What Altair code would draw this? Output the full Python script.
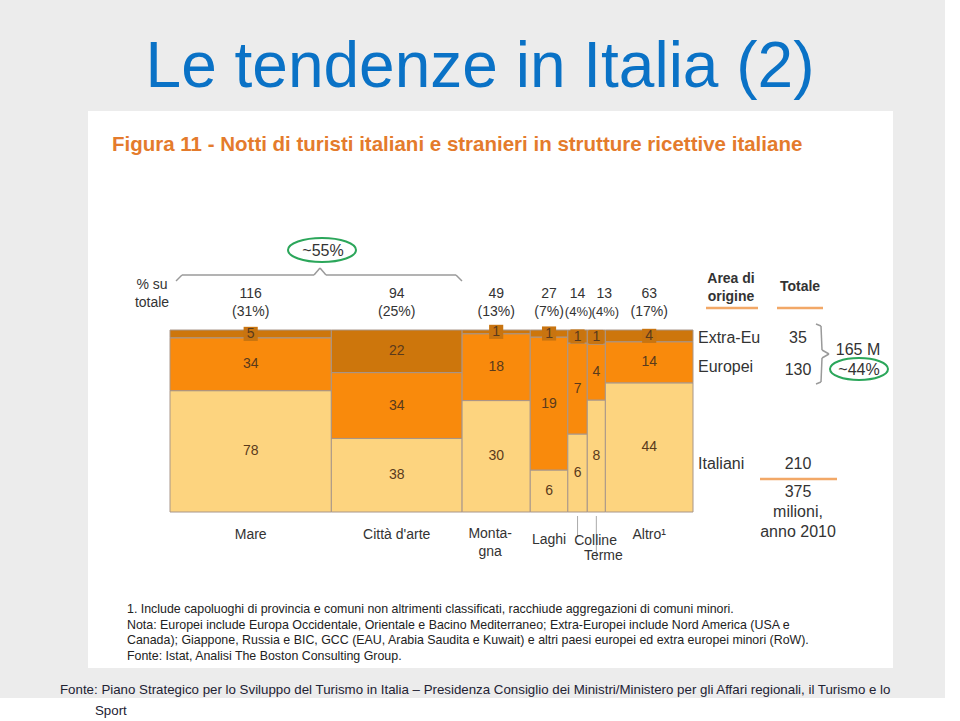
import altair as alt
import pandas as pd

# ---------------- data ----------------
categorie = ["Mare", "Città d'arte", "Montagna", "Laghi", "Colline", "Terme", "Altro"]
totali = [116, 94, 49, 27, 14, 13, 63]          # milioni di notti
quote = [31, 25, 13, 7, 4, 4, 17]                # % su totale
italiani = [78, 38, 30, 6, 6, 8, 44]
europei = [34, 34, 18, 19, 7, 4, 14]
extra_eu = [5, 22, 1, 1, 1, 1, 4]
aree = ["Italiani", "Europei", "Extra-Eu"]
totali_area = [210, 130, 35]
colori = ["#FDD47F", "#F98A0C", "#CD760C"]

# ---------------- tables ----------------
rows, cols = [], []
cum = 0
for i, c in enumerate(categorie):
    x0, x1 = cum, cum + totali[i]
    cum = x1
    vals = [italiani[i], europei[i], extra_eu[i]]
    s = sum(vals)
    acc = 0.0
    for a, v in zip(aree, vals):
        y0 = acc / s * 100
        acc += v
        y1 = acc / s * 100
        rows.append(dict(cat=c, area=a, val=v, x0=x0, x1=x1, xc=(x0 + x1) / 2,
                         y0=y0, y1=y1, yc=(y0 + y1) / 2))
    cols.append(dict(cat=c, totale=totali[i], quota=f"({quote[i]}%)", xc=(x0 + x1) / 2))
seg = pd.DataFrame(rows)
cdf = pd.DataFrame(cols)
XMAX = cum

OX, OY = 170, 330           # plot origin in page pixels
W, H = 523, 182
one = pd.DataFrame({"k": [0]})
FONT = "Liberation Sans, Arial, sans-serif"
TXT = "#333333"

xs = alt.Scale(domain=[0, XMAX], nice=False, zero=True)
ys = alt.Scale(domain=[0, 100], nice=False)


def T(text, x, y, size=14, color=TXT, weight="normal", font=FONT, align="center",
      baseline="middle", lh=None):
    kw = dict(text=text, fontSize=size, color=color, fontWeight=weight, font=font,
              align=align, baseline=baseline)
    if lh:
        kw["lineHeight"] = lh
    return alt.Chart(one).mark_text(**kw).encode(x=alt.value(x - OX), y=alt.value(y - OY))


def R(x1, y1, x2, y2, color="#9a9a9a", w=1.5):
    return alt.Chart(one).mark_rule(color=color, strokeWidth=w).encode(
        x=alt.value(x1 - OX), y=alt.value(y1 - OY), x2=alt.value(x2 - OX), y2=alt.value(y2 - OY))


def B(x1, y1, x2, y2, fill):
    return alt.Chart(one).mark_rect(fill=fill).encode(
        x=alt.value(x1 - OX), y=alt.value(y1 - OY), x2=alt.value(x2 - OX), y2=alt.value(y2 - OY))


def ellipse(cx, cy, w, h):
    r = h / w
    shape = f"M-1,0 A1,{r:.3f} 0 1,1 1,0 A1,{r:.3f} 0 1,1 -1,0"
    return alt.Chart(one).mark_point(shape=shape, size=w * w, filled=False,
                                     stroke="#2BA65A", strokeWidth=2, opacity=1).encode(
        x=alt.value(cx - OX), y=alt.value(cy - OY))


layers = []
# slide backgrounds
layers.append(B(0, 0, 945, 698, "#ECECEC"))
layers.append(B(88, 111, 893, 668, "#FFFFFF"))

# bars
bars = alt.Chart(seg).mark_rect(stroke="#A8968A", strokeWidth=1).encode(
    x=alt.X("x0:Q", scale=xs, axis=None),
    x2="x1:Q",
    y=alt.Y("y0:Q", scale=ys,
            axis=alt.Axis(values=[0, 50, 100], title=None, domain=False, grid=False,
                          tickSize=5, tickColor="#999999", labelFontSize=14,
                          labelColor=TXT, labelFont=FONT, labelPadding=7)),
    y2="y1:Q",
    color=alt.Color("area:N", scale=alt.Scale(domain=aree, range=colori), legend=None),
)
layers.append(bars)

# small boxes behind small extra-EU labels
boxes = alt.Chart(seg).transform_filter(
    "datum.area == 'Extra-Eu' && datum.val <= 5").mark_square(
    size=200, color="#C87410", opacity=1).encode(
    x=alt.X("xc:Q", scale=xs), y=alt.Y("yc:Q", scale=ys))
layers.append(boxes)

vlab = alt.Chart(seg).mark_text(fontSize=14, color="#5A3A1C", font=FONT).encode(
    x=alt.X("xc:Q", scale=xs), y=alt.Y("yc:Q", scale=ys), text="val:Q")
layers.append(vlab)

# totals on top of columns
TS = 14
top_main = alt.Chart(cdf).transform_filter("datum.cat != 'Terme'")
layers.append(top_main.mark_text(fontSize=TS, color=TXT, font=FONT).encode(
    x=alt.X("xc:Q", scale=xs), y=alt.value(294 - OY), text="totale:Q"))
layers.append(top_main.transform_filter("datum.totale >= 20").mark_text(
    fontSize=TS, color=TXT, font=FONT).encode(
    x=alt.X("xc:Q", scale=xs), y=alt.value(312 - OY), text="quota:N"))
layers.append(top_main.transform_filter("datum.totale < 20").mark_text(
    fontSize=13, color=TXT, font=FONT, dx=1).encode(
    x=alt.X("xc:Q", scale=xs), y=alt.value(312 - OY), text="quota:N"))
top_t = alt.Chart(cdf).transform_filter("datum.cat == 'Terme'")
layers.append(top_t.mark_text(fontSize=TS, color=TXT, font=FONT, dx=8).encode(
    x=alt.X("xc:Q", scale=xs), y=alt.value(294 - OY), text="totale:Q"))
layers.append(top_t.mark_text(fontSize=13, color=TXT, font=FONT, dx=9).encode(
    x=alt.X("xc:Q", scale=xs), y=alt.value(312 - OY), text="quota:N"))

# category labels below
bl = alt.Chart(cdf).transform_filter(
    "indexof(['Mare', \"Città d'arte\", 'Altro'], datum.cat) >= 0")
layers.append(bl.transform_calculate(lbl="datum.cat == 'Altro' ? 'Altro¹' : datum.cat").mark_text(
    fontSize=14, color=TXT, font=FONT).encode(
    x=alt.X("xc:Q", scale=xs), y=alt.value(535 - OY), text="lbl:N"))
layers.append(alt.Chart(cdf).transform_filter("datum.cat == 'Montagna'").mark_text(
    fontSize=14, color=TXT, font=FONT, text=["Monta-", "gna"], baseline="top", lineHeight=18, dx=-6).encode(
    x=alt.X("xc:Q", scale=xs), y=alt.value(527 - OY)))
layers.append(alt.Chart(cdf).transform_filter("datum.cat == 'Laghi'").mark_text(
    fontSize=14, color=TXT, font=FONT).encode(
    x=alt.X("xc:Q", scale=xs), y=alt.value(540 - OY), text="cat:N"))
# leader lines + labels for Colline / Terme
layers.append(alt.Chart(cdf).transform_filter("datum.cat == 'Colline'").mark_rule(
    color="#AAAAAA", strokeWidth=1).encode(
    x=alt.X("xc:Q", scale=xs), y=alt.value(516 - OY), y2=alt.value(537 - OY)))
layers.append(alt.Chart(cdf).transform_filter("datum.cat == 'Terme'").mark_rule(
    color="#AAAAAA", strokeWidth=1).encode(
    x=alt.X("xc:Q", scale=xs), y=alt.value(516 - OY), y2=alt.value(558 - OY)))
layers.append(alt.Chart(cdf).transform_filter("datum.cat == 'Colline'").mark_text(
    fontSize=14, color=TXT, font=FONT, dx=18).encode(
    x=alt.X("xc:Q", scale=xs), y=alt.value(541 - OY), text="cat:N"))
layers.append(alt.Chart(cdf).transform_filter("datum.cat == 'Terme'").mark_text(
    fontSize=14, color=TXT, font=FONT, dx=7).encode(
    x=alt.X("xc:Q", scale=xs), y=alt.value(556 - OY), text="cat:N"))

# y-axis caption
layers.append(T(["% su", "totale"], 152, 278, size=14, baseline="top", lh=18))

# brace above Mare + Città
layers += [
    R(182, 275, 314, 275), R(326, 275, 456, 275),
    R(314, 275, 320, 268), R(320, 268, 326, 275),
    R(176, 281, 182, 275), R(456, 275, 462, 281),
]
layers.append(T("~55%", 323, 251, size=16))
layers.append(ellipse(322, 250, 68, 24))

# right-hand legend
layers.append(T(["Area di", "origine"], 731, 272, size=14, weight="bold", baseline="top", lh=18))
layers.append(T("Totale", 800, 287, size=14, weight="bold"))
layers.append(R(706, 308, 758, 308, color="#F2A867", w=2.5))
layers.append(R(777, 308, 823, 308, color="#F2A867", w=2.5))

ylab = {"Extra-Eu": 338, "Europei": 367, "Italiani": 464}
ytot = {"Extra-Eu": 338, "Europei": 370, "Italiani": 464}
for a, t in zip(aree, totali_area):
    layers.append(T(a, 698, ylab[a], size=16, align="left"))
    layers.append(T(str(t), 798, ytot[a], size=16))

# brace right of 35 / 130
layers += [
    R(816, 324, 821, 326), R(821, 326, 822, 350), R(822, 350, 829, 354),
    R(829, 354, 822, 358), R(822, 358, 821, 382), R(821, 382, 816, 384),
]
layers.append(T(f"{sum(totali_area[1:])} M", 858, 350, size=16))
layers.append(T("~44%", 859, 370, size=16))
layers.append(ellipse(859, 369, 58, 22))
layers.append(R(760, 479, 837, 479, color="#F2A867", w=2.5))
layers.append(T([f"{sum(totali_area)}", "milioni,", "anno 2010"], 798, 484, size=16,
                baseline="top", lh=20))

# figure title
layers.append(T("Figura 11 - Notti di turisti italiani e stranieri in strutture ricettive italiane",
                112, 145, size=20.5, weight="bold", color="#E47B2C", align="left"))

# footnotes
notes = [
    "1. Include capoluoghi di provincia e comuni non altrimenti classificati, racchiude aggregazioni di comuni minori.",
    "Nota: Europei include Europa Occidentale, Orientale e Bacino Mediterraneo; Extra-Europei include Nord America (USA e",
    "Canada); Giappone, Russia e BIC, GCC (EAU, Arabia Saudita e Kuwait) e altri paesi europei ed extra europei minori (RoW).",
    "Fonte: Istat, Analisi The Boston Consulting Group.",
]
layers.append(T(notes, 127, 603, size=12.4, color="#222222", align="left",
                baseline="top", lh=15.5))

# slide title and footer
layers.append(T("Le tendenze in Italia (2)", 480, 87, size=64, color="#0A72C6",
                baseline="alphabetic"))
layers.append(T("Fonte: Piano Strategico per lo Sviluppo del Turismo in Italia – Presidenza Consiglio "
                "dei Ministri/Ministero per gli Affari regionali, il Turismo e lo",
                60, 690, size=13.3, color="#222233", align="left"))
layers.append(T("Sport", 95, 711, size=13.3, color="#222233", align="left"))

chart = alt.layer(*layers).properties(
    width=W, height=H,
    autosize=alt.AutoSizeParams(type="none"),
    padding={"left": OX, "top": OY, "right": 960 - OX - W, "bottom": 721 - OY - H},
    background="#FFFFFF",
).configure_view(stroke=None)

chart.save("out.html", embed_options={"renderer": "svg", "actions": False})
